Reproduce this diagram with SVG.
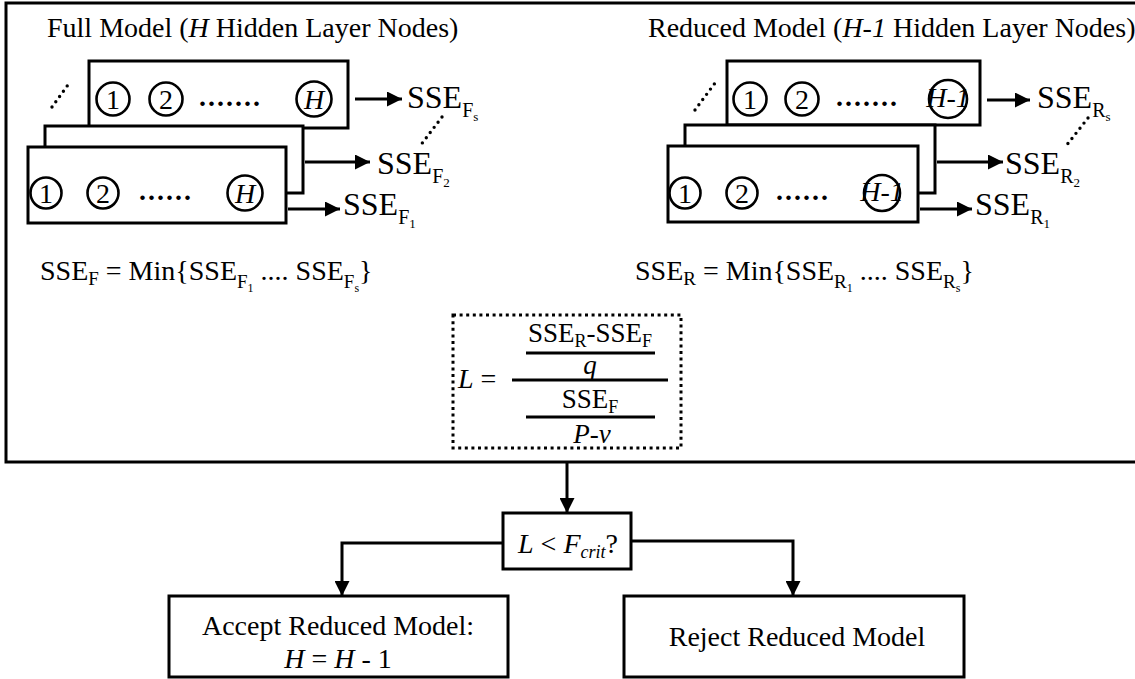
<svg xmlns="http://www.w3.org/2000/svg" width="1135" height="679" viewBox="0 0 1135 679">
  <defs>
    <style>
      .t { font-family: "Liberation Serif", "Times New Roman", serif; fill: #000; }
      .i { font-style: italic; }
      .title { font-size: 28px; }
      .sse { font-size: 32px; }
      .eq { font-size: 28px; }
      .num { font-size: 28px; text-anchor: middle; }
      .ell { font-size: 28px; font-weight: bold; letter-spacing: 2px; }
      .box { fill: #fff; stroke: #000; stroke-width: 3; }
      .circ { fill: none; stroke: #000; stroke-width: 2.6; }
      .ln { fill: none; stroke: #000; stroke-width: 3; }
      .dots { fill: none; stroke: #000; stroke-width: 3.4; stroke-linecap: round; stroke-dasharray: 0 6.5; }
      .dbox { fill: none; stroke: #000; stroke-width: 3; stroke-dasharray: 3 3.6; }
    </style>
    <marker id="arrow" markerUnits="userSpaceOnUse" markerWidth="16" markerHeight="15" refX="15" refY="7.5" orient="auto">
      <path d="M0,0 L15,7.5 L0,15 z" fill="#000"/>
    </marker>
  </defs>

  <rect width="1135" height="679" fill="#fff"/>

  <!-- outer frame (right edge runs off the page) -->
  <rect class="ln" x="6" y="3" width="1140" height="459"/>

  <!-- Full model: stacked networks with H hidden nodes -->
  <g id="full-model">
    <text class="t title" x="47" y="37">Full Model (<tspan class="i">H</tspan> Hidden Layer Nodes)</text>
    <rect class="box" x="89" y="61" width="259" height="67"/>
    <circle class="circ" cx="113" cy="99" r="16.5"/>
    <text class="t num" x="113" y="109">1</text>
    <circle class="circ" cx="166" cy="99" r="16.5"/>
    <text class="t num" x="166" y="109">2</text>
    <text class="t ell" x="199" y="106">.......</text>
    <circle class="circ" cx="314" cy="99" r="17.5"/>
    <text class="t num i" x="314" y="109">H</text>
    <rect class="box" x="45" y="126" width="258" height="67"/>
    <rect class="box" x="28" y="147" width="258" height="76"/>
    <circle class="circ" cx="46" cy="193" r="15.5"/>
    <text class="t num" x="46" y="203">1</text>
    <circle class="circ" cx="103" cy="193" r="15.5"/>
    <text class="t num" x="103" y="203">2</text>
    <text class="t ell" x="139" y="200">......</text>
    <circle class="circ" cx="245" cy="193" r="17.5"/>
    <text class="t num i" x="245" y="203">H</text>
  </g>

  <g id="sse-full">
    <text class="t sse" x="407" y="108">SSE<tspan font-size="20" dy="9">F</tspan><tspan font-size="13" dy="4">s</tspan></text>
    <text class="t sse" x="377" y="174">SSE<tspan font-size="20" dy="9">F</tspan><tspan font-size="13" dy="4">2</tspan></text>
    <text class="t sse" x="343" y="215">SSE<tspan font-size="20" dy="9">F</tspan><tspan font-size="13" dy="4">1</tspan></text>
  </g>

  <!-- Reduced model: stacked networks with H-1 hidden nodes -->
  <g id="reduced-model">
    <text class="t title" x="648" y="37">Reduced Model (<tspan class="i">H-1</tspan> Hidden Layer Nodes)</text>
    <rect class="box" x="727" y="61" width="253" height="64"/>
    <circle class="circ" cx="750" cy="99" r="16.5"/>
    <text class="t num" x="750" y="109">1</text>
    <circle class="circ" cx="802" cy="99" r="16.5"/>
    <text class="t num" x="802" y="109">2</text>
    <text class="t ell" x="836" y="106">.......</text>
    <circle class="circ" cx="948" cy="99" r="19"/>
    <text class="t num i" x="948" y="107" font-size="22">H-1</text>
    <rect class="box" x="685" y="125" width="250" height="68"/>
    <rect class="box" x="668" y="146" width="250" height="76"/>
    <circle class="circ" cx="685" cy="193" r="15.5"/>
    <text class="t num" x="685" y="203">1</text>
    <circle class="circ" cx="742" cy="193" r="15.5"/>
    <text class="t num" x="742" y="203">2</text>
    <text class="t ell" x="776" y="200">......</text>
    <circle class="circ" cx="882" cy="193" r="18"/>
    <text class="t num i" x="882" y="201" font-size="22">H-1</text>
  </g>

  <g id="sse-reduced">
    <text class="t sse" x="1037" y="108">SSE<tspan font-size="20" dy="9">R</tspan><tspan font-size="13" dy="4">s</tspan></text>
    <text class="t sse" x="1005" y="174">SSE<tspan font-size="20" dy="9">R</tspan><tspan font-size="13" dy="4">2</tspan></text>
    <text class="t sse" x="975" y="215">SSE<tspan font-size="20" dy="9">R</tspan><tspan font-size="13" dy="4">1</tspan></text>
  </g>

  <!-- minimum over the runs -->
  <g id="min-full">
    <text class="t eq" x="40" y="280">SSE<tspan font-size="19" dy="5">F</tspan><tspan dy="-5"> = Min{SSE</tspan><tspan font-size="19" dy="8">F</tspan><tspan font-size="12" dy="4">1</tspan><tspan dy="-12"> .... SSE</tspan><tspan font-size="19" dy="8">F</tspan><tspan font-size="12" dy="4">s</tspan><tspan dy="-12">}</tspan></text>
  </g>
  <g id="min-reduced">
    <text class="t eq" x="635" y="280">SSE<tspan font-size="19" dy="5">R</tspan><tspan dy="-5"> = Min{SSE</tspan><tspan font-size="19" dy="8">R</tspan><tspan font-size="12" dy="4">1</tspan><tspan dy="-12"> .... SSE</tspan><tspan font-size="19" dy="8">R</tspan><tspan font-size="12" dy="4">s</tspan><tspan dy="-12">}</tspan></text>
  </g>

  <!-- test statistic -->
  <g id="statistic">
    <rect class="dbox" x="453" y="315" width="228" height="133"/>
    <text class="t eq i" x="458" y="388">L<tspan font-style="normal"> =</tspan></text>
    <text class="t" x="590" y="342" font-size="27" text-anchor="middle">SSE<tspan font-size="18" dy="5">R</tspan><tspan dy="-5">-SSE</tspan><tspan font-size="18" dy="5">F</tspan></text>
    <line class="ln" x1="526" y1="353" x2="655" y2="353"/>
    <text class="t i" x="590" y="374" font-size="27" text-anchor="middle">q</text>
    <line class="ln" x1="512" y1="380" x2="668" y2="380"/>
    <text class="t" x="590" y="408" font-size="27" text-anchor="middle">SSE<tspan font-size="18" dy="5">F</tspan></text>
    <line class="ln" x1="526" y1="417" x2="655" y2="417"/>
    <text class="t i" x="592" y="443" font-size="27" text-anchor="middle">P-v</text>
  </g>

  <!-- decision and outcomes -->
  <g id="decision">
    <rect class="box" x="503" y="513" width="128" height="56"/>
    <text class="t i" x="518" y="553" font-size="28">L<tspan font-style="normal"> &lt; </tspan>F<tspan font-size="18" dy="5">crit</tspan><tspan font-style="normal" dy="-5">?</tspan></text>
  </g>

  <g id="accept">
    <rect class="box" x="169" y="596" width="339" height="81"/>
    <text class="t" x="338" y="635" font-size="28" text-anchor="middle">Accept Reduced Model:</text>
    <text class="t" x="338" y="668" font-size="28" text-anchor="middle"><tspan class="i">H</tspan> = <tspan class="i">H</tspan> - 1</text>
  </g>

  <g id="reject">
    <rect class="box" x="624" y="596" width="340" height="81"/>
    <text class="t" x="797" y="646" font-size="28" text-anchor="middle">Reject Reduced Model</text>
  </g>

  <!-- connectors -->
  <g id="connectors">
    <line class="ln" x1="355" y1="99" x2="402" y2="99" marker-end="url(#arrow)"/>
    <line class="ln" x1="305" y1="162" x2="370" y2="162" marker-end="url(#arrow)"/>
    <line class="ln" x1="288" y1="209" x2="340" y2="209" marker-end="url(#arrow)"/>
    <line class="ln" x1="987" y1="100" x2="1030" y2="100" marker-end="url(#arrow)"/>
    <line class="ln" x1="937" y1="162" x2="1003" y2="162" marker-end="url(#arrow)"/>
    <line class="ln" x1="920" y1="209" x2="972" y2="209" marker-end="url(#arrow)"/>
    <line class="dots" x1="52" y1="107" x2="70" y2="82"/>
    <line class="dots" x1="695" y1="110" x2="715" y2="83"/>
    <line class="dots" x1="442" y1="117" x2="420" y2="146"/>
    <line class="dots" x1="1088" y1="118" x2="1066" y2="146"/>
    <line class="ln" x1="567" y1="462" x2="567" y2="513" marker-end="url(#arrow)"/>
    <path class="ln" d="M503,543 H342 V596" marker-end="url(#arrow)"/>
    <path class="ln" d="M631,541 H793 V596" marker-end="url(#arrow)"/>
  </g>
</svg>
